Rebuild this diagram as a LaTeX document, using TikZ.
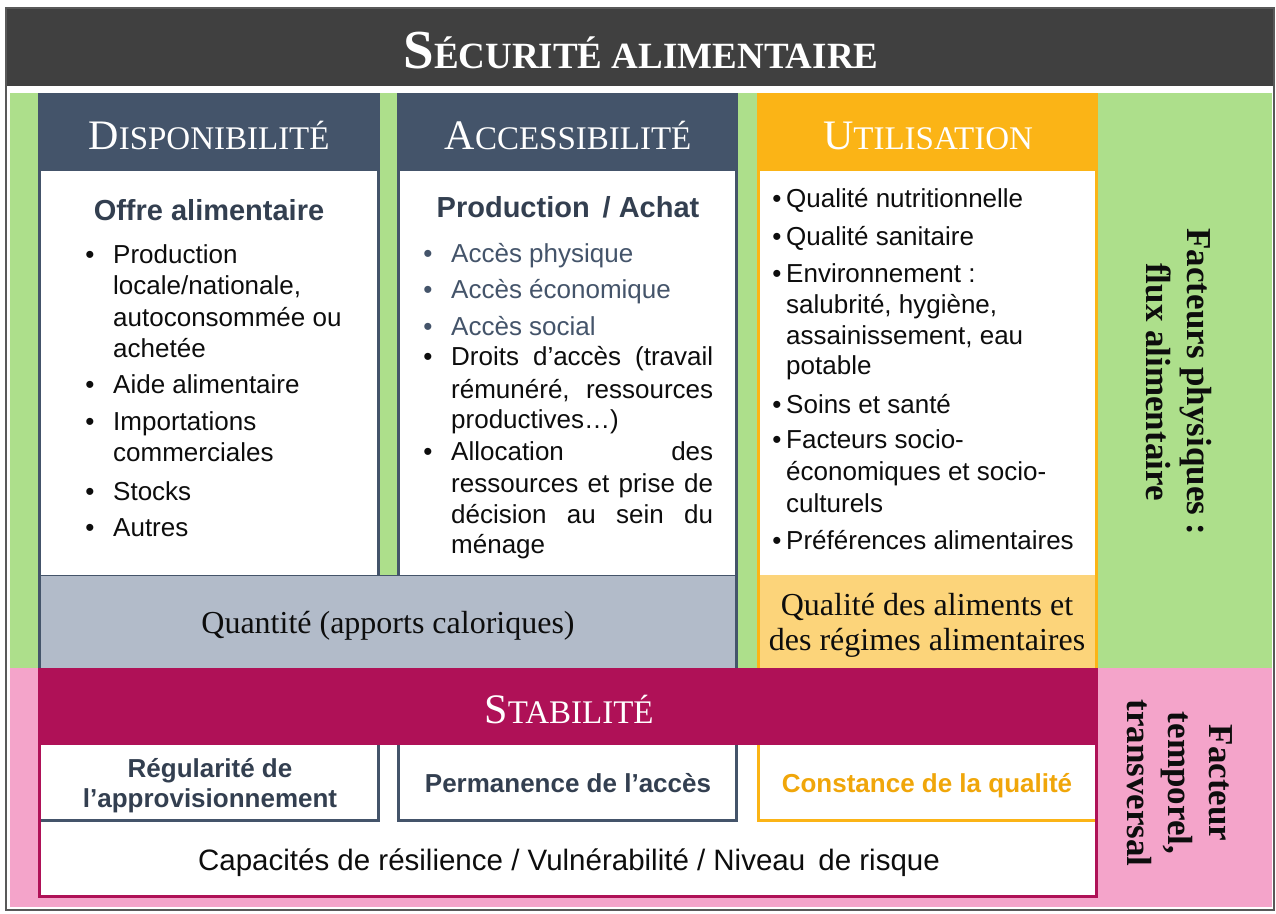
\documentclass[tikz,border=0pt]{standalone}
\usepackage{fontspec}
\setmainfont{Liberation Sans}
\newfontfamily\serifface{Liberation Serif}
\definecolor{titlebg}{HTML}{404040}
\definecolor{slate}{HTML}{44546A}
\definecolor{headslate}{HTML}{333F50}
\definecolor{grn}{RGB}{173,223,139}
\definecolor{pnk}{RGB}{244,164,202}
\definecolor{crim}{RGB}{175,17,87}
\definecolor{orng}{RGB}{251,180,22}
\definecolor{lorng}{RGB}{252,212,122}
\definecolor{grayband}{RGB}{178,187,201}
\definecolor{orngtxt}{RGB}{240,166,10}
\definecolor{bodyc}{HTML}{0D0D0D}
\newcommand\fakesc[4]{{\fontsize{#1}{#1}\selectfont #3}{\fontsize{#2}{#2}\selectfont #4}}
\tikzset{
  body/.style={anchor=base west, inner sep=0pt, font=\fontsize{26}{31}\selectfont, text=bodyc},
  bul/.style={anchor=base, inner sep=0pt, font=\fontsize{26}{31}\selectfont, text=bodyc},
  subhead/.style={anchor=base, inner sep=0pt, font=\bfseries\fontsize{29}{34}\selectfont, text=headslate},
  colhead/.style={anchor=base, inner sep=0pt, text=white, font=\serifface},
  serifline/.style={anchor=base, inner sep=0pt, font=\serifface\fontsize{32}{34}\selectfont, text=bodyc},
  stabtxt/.style={anchor=base, inner sep=0pt, font=\bfseries\fontsize{26}{30}\selectfont, text=headslate},
  sidetxt/.style={inner sep=0pt, align=center, rotate=-90, font=\serifface\bfseries\fontsize{35}{41}\selectfont, text=bodyc},
}
\begin{document}
\begin{tikzpicture}[x=1pt,y=-1pt]
\useasboundingbox (0,0) rectangle (1276,913);
% frame
\draw[draw=black!65, line width=2pt, fill=white] (6,8) rectangle (1274,910);
\fill[titlebg] (7,9) rectangle (1273,86);
\fill[grn] (10,93) rectangle (1272,668);
\fill[pnk] (10,668) rectangle (1272,907);
% column 1 and 2
\fill[slate] (38,93) rectangle (380,575);
\fill[white] (41,171) rectangle (377,575);
\fill[slate] (397,93) rectangle (738,575);
\fill[white] (400,171) rectangle (735,575);
\fill[slate] (38,575) rectangle (738,668);
\fill[grayband] (41,576) rectangle (735,668);
% column 3
\fill[orng] (757,93) rectangle (1098,668);
\fill[white] (760,171) rectangle (1095,575);
\fill[lorng] (760,575) rectangle (1095,668);
% stability
\fill[crim] (38,668) rectangle (1098,898);
\fill[white] (41,745) rectangle (1095,895);
\fill[slate] (41,745) rectangle (380,822);
\fill[white] (41,745) rectangle (377,819);
\fill[slate] (397,745) rectangle (738,822);
\fill[white] (400,745) rectangle (735,819);
\fill[orng] (757,745) rectangle (1095,822);
\fill[white] (760,745) rectangle (1095,819);

% title and headers
\node[colhead, font=\serifface\bfseries] (title) at (641,68) {\fakesc{55}{37}{S}{ÉCURITÉ ALIMENTAIRE}};
\node[colhead] (h1) at (209,149) {\fakesc{42}{33}{D}{ISPONIBILITÉ}};
\node[colhead] (h2) at (568,149) {\fakesc{42}{33}{A}{CCESSIBILITÉ}};
\node[colhead] (h3) at (928,149) {\fakesc{42}{33}{U}{TILISATION}};
\node[colhead] (h4) at (569,723) {\fakesc{42}{33}{S}{TABILITÉ}};

% column 1 body
\node[subhead] (s1) at (209,220) {Offre alimentaire};
\node[bul] (b11) at (90,263) {•};
\node[bul] (b12) at (90,393) {•};
\node[bul] (b13) at (90,430) {•};
\node[bul] (b14) at (90,500) {•};
\node[bul] (b15) at (90,536) {•};
\node[body] (l11) at (113,263) {Production};
\node[body] (l12) at (113,294) {locale/nationale,};
\node[body] (l13) at (113,326) {autoconsommée ou};
\node[body] (l14) at (113,357) {achetée};
\node[body] (l15) at (113,393) {Aide alimentaire};
\node[body] (l16) at (113,430) {Importations};
\node[body] (l17) at (113,461) {commerciales};
\node[body] (l18) at (113,500) {Stocks};
\node[body] (l19) at (113,536) {Autres};

% column 2 body
\node[subhead] (s2) at (568,217) {Production\, / Achat};
\node[bul, text=slate] (b21) at (428,262) {•};
\node[bul, text=slate] (b22) at (428,298) {•};
\node[bul, text=slate] (b23) at (428,335) {•};
\node[bul] (b24) at (428,365) {•};
\node[bul] (b25) at (428,460) {•};
\node[body, text=slate] (l21) at (451,262) {Accès physique};
\node[body, text=slate] (l22) at (451,298) {Accès économique};
\node[body, text=slate] (l23) at (451,335) {Accès social};
\node[body] (l24) at (451,365) {\makebox[262pt][s]{Droits d’accès (travail}};
\node[body] (l25) at (451,398) {\makebox[262pt][s]{rémunéré, ressources}};
\node[body] (l26) at (451,428) {productives…)};
\node[body] (l27) at (451,460) {\makebox[262pt][s]{Allocation des}};
\node[body] (l28) at (451,492) {\makebox[262pt][s]{ressources et prise de}};
\node[body] (l29) at (451,523) {\makebox[262pt][s]{décision au sein du}};
\node[body] (l2a) at (451,553) {ménage};

% column 3 body
\node[bul] (b31) at (777,207) {•};
\node[bul] (b32) at (777,245) {•};
\node[bul] (b33) at (777,282) {•};
\node[bul] (b34) at (777,413) {•};
\node[bul] (b35) at (777,448) {•};
\node[bul] (b36) at (777,549) {•};
\node[body] (l31) at (786,207) {Qualité nutritionnelle};
\node[body] (l32) at (786,245) {Qualité sanitaire};
\node[body] (l33) at (786,282) {Environnement :};
\node[body] (l34) at (786,313) {salubrité, hygiène,};
\node[body] (l35) at (786,344) {assainissement, eau};
\node[body] (l36) at (786,374) {potable};
\node[body] (l37) at (786,413) {Soins et santé};
\node[body] (l38) at (786,448) {Facteurs socio-};
\node[body] (l39) at (786,480) {économiques et socio-};
\node[body] (l3a) at (786,512) {culturels};
\node[body] (l3b) at (786,549) {Préférences alimentaires};

% bands
\node[serifline] (qty) at (388,633) {Quantité (apports caloriques)};
\node[serifline] (ql1) at (927,615) {Qualité des aliments et};
\node[serifline] (ql2) at (927,650) {des régimes alimentaires};

% stability boxes
\node[stabtxt] (r1a) at (210,777) {Régularité de};
\node[stabtxt] (r1b) at (210,807) {l’approvisionnement};
\node[stabtxt] (r2) at (568,792) {Permanence de l’accès};
\node[stabtxt, text=orngtxt] (r3) at (927,792) {Constance de la qualité};
\node[body, anchor=base, font=\fontsize{29.5}{34}\selectfont] (cap) at (569,870) {Capacités de résilience / Vulnérabilité / Niveau\, de risque};

% side labels
\node[sidetxt] (side1) at (1179,382) {Facteurs physiques :\\flux alimentaire};
\node[sidetxt] (side2) at (1180,783) {Facteur\\temporel,\\transversal};
\end{tikzpicture}
\end{document}
